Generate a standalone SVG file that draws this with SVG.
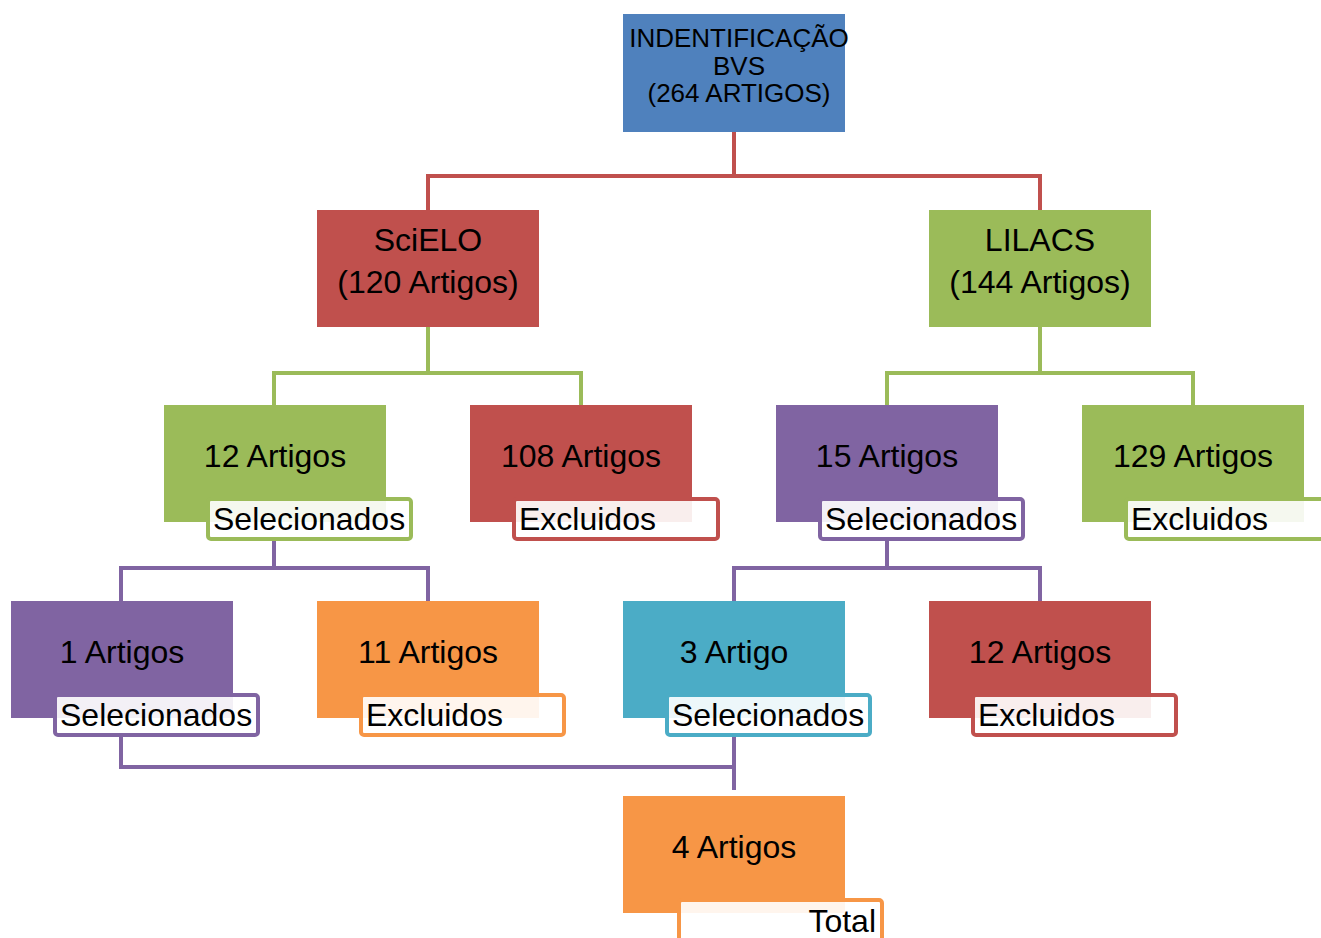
<svg xmlns="http://www.w3.org/2000/svg" width="1321" height="938" viewBox="0 0 1321 938">
<style>
text{font-family:"Liberation Sans",Arial,sans-serif;fill:#000}
.t{font-size:32px;text-anchor:middle}
.h{font-size:26px;text-anchor:middle}
.l{font-size:32px}
.lb{fill:#fff;fill-opacity:0.9;stroke-width:4}
.c{fill:none;stroke-width:4}
</style>
<rect width="1321" height="938" fill="#fff"/>
<g id="connectors">
<path class="c" stroke="#C0504D" d="M734,132V176M428,210V176H1040V210"/>
<path class="c" stroke="#9BBB59" d="M428,327V373M274,405V373H581V405"/>
<path class="c" stroke="#9BBB59" d="M1040,327V373M887,405V373H1193V405"/>
<path class="c" stroke="#8064A2" d="M274,541V568M121,601V568H428V601"/>
<path class="c" stroke="#8064A2" d="M887,541V568M734,601V568H1040V601"/>
<path class="c" stroke="#8064A2" d="M121,737V767H734M734,737V790"/>
</g>
<g id="n-bvs">
<rect x="623" y="14" width="222" height="118" fill="#4F81BD"/>
<text class="h" x="739" y="47">INDENTIFICAÇÃO</text>
<text class="h" x="739" y="75">BVS</text>
<text class="h" x="739" y="102">(264 ARTIGOS)</text>
</g>
<g id="n-scielo">
<rect x="317" y="210" width="222" height="117" fill="#C0504D"/>
<text class="t" x="428" y="251">SciELO</text>
<text class="t" x="428" y="293">(120 Artigos)</text>
</g>
<g id="n-lilacs">
<rect x="929" y="210" width="222" height="117" fill="#9BBB59"/>
<text class="t" x="1040" y="251">LILACS</text>
<text class="t" x="1040" y="293">(144 Artigos)</text>
</g>
<g id="n-12sel">
<rect x="164" y="405" width="222" height="117" fill="#9BBB59"/>
<text class="t" x="275" y="467">12 Artigos</text>
<rect class="lb" x="208" y="499" width="203" height="40" rx="3" stroke="#9BBB59"/>
<text class="l" x="213" y="530">Selecionados</text>
</g>
<g id="n-108exc">
<rect x="470" y="405" width="222" height="117" fill="#C0504D"/>
<text class="t" x="581" y="467">108 Artigos</text>
<rect class="lb" x="514" y="499" width="204" height="40" rx="3" stroke="#C0504D"/>
<text class="l" x="519" y="530">Excluidos</text>
</g>
<g id="n-15sel">
<rect x="776" y="405" width="222" height="117" fill="#8064A2"/>
<text class="t" x="887" y="467">15 Artigos</text>
<rect class="lb" x="820" y="499" width="203" height="40" rx="3" stroke="#8064A2"/>
<text class="l" x="825" y="530">Selecionados</text>
</g>
<g id="n-129exc">
<rect x="1082" y="405" width="222" height="117" fill="#9BBB59"/>
<text class="t" x="1193" y="467">129 Artigos</text>
<rect class="lb" x="1126" y="499" width="210" height="40" rx="3" stroke="#9BBB59"/>
<text class="l" x="1131" y="530">Excluidos</text>
</g>
<g id="n-1sel">
<rect x="11" y="601" width="222" height="117" fill="#8064A2"/>
<text class="t" x="122" y="663">1 Artigos</text>
<rect class="lb" x="55" y="695" width="203" height="40" rx="3" stroke="#8064A2"/>
<text class="l" x="60" y="726">Selecionados</text>
</g>
<g id="n-11exc">
<rect x="317" y="601" width="222" height="117" fill="#F79646"/>
<text class="t" x="428" y="663">11 Artigos</text>
<rect class="lb" x="361" y="695" width="203" height="40" rx="3" stroke="#F79646"/>
<text class="l" x="366" y="726">Excluidos</text>
</g>
<g id="n-3sel">
<rect x="623" y="601" width="222" height="117" fill="#4BACC6"/>
<text class="t" x="734" y="663">3 Artigo</text>
<rect class="lb" x="667" y="695" width="203" height="40" rx="3" stroke="#4BACC6"/>
<text class="l" x="672" y="726">Selecionados</text>
</g>
<g id="n-12exc">
<rect x="929" y="601" width="222" height="117" fill="#C0504D"/>
<text class="t" x="1040" y="663">12 Artigos</text>
<rect class="lb" x="973" y="695" width="203" height="40" rx="3" stroke="#C0504D"/>
<text class="l" x="978" y="726">Excluidos</text>
</g>
<g id="n-total">
<rect x="623" y="796" width="222" height="117" fill="#F79646"/>
<text class="t" x="734" y="858">4 Artigos</text>
<rect class="lb" x="679" y="900" width="203" height="50" rx="3" stroke="#F79646"/>
<text class="l" x="876" y="932" text-anchor="end">Total</text>
</g>
</svg>
